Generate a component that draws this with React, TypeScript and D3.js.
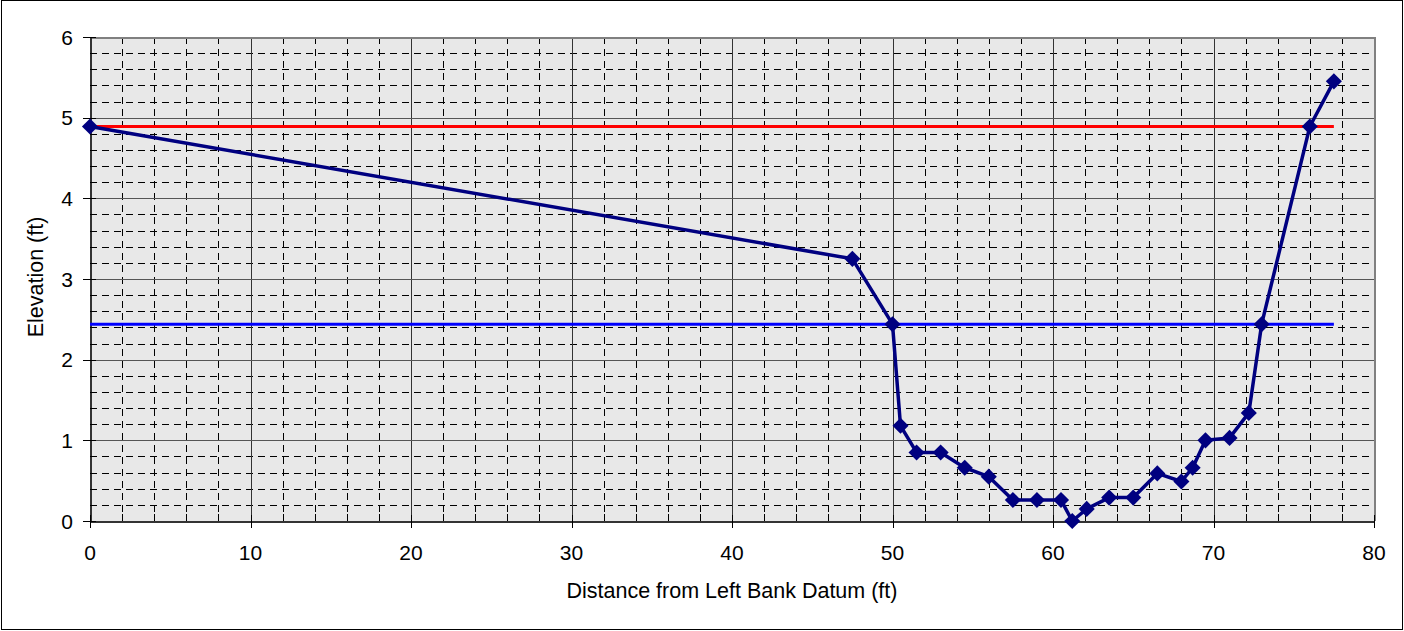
import React, { useEffect, useRef } from "react";
import * as d3 from "d3";

// Surveyed cross-section: station (ft) and bed elevation (ft)
const stations = [0, 47.5, 50, 50.5, 51.5, 53, 54.5, 56, 57.5, 59, 60.5, 61.2, 62.1, 63.5, 65, 66.5, 68, 68.7, 69.5, 71, 72.2, 73, 76, 77.5];
const elevations = [4.89, 3.25, 2.44, 1.18, 0.85, 0.85, 0.66, 0.55, 0.26, 0.26, 0.26, 0, 0.15, 0.29, 0.29, 0.59, 0.49, 0.66, 1.0, 1.03, 1.34, 2.44, 4.89, 5.45];

// Reference water levels drawn across the section
const bankfullElevation = [4.89];
const lowWaterElevation = [2.44];
const levelExtent = [0, 77.5];

const xTicks = [0, 10, 20, 30, 40, 50, 60, 70, 80];
const yTicks = [0, 1, 2, 3, 4, 5, 6];

const W = 1404;
const H = 631;
const M = { left: 90, right: 30, top: 37, bottom: 110 };

export default function App() {
  const ref = useRef<SVGSVGElement>(null);

  useEffect(() => {
    const svg = d3.select(ref.current);
    svg.selectAll("*").remove();

    const x = d3.scaleLinear().domain([0, 80]).range([M.left, 1374]);
    const y = d3.scaleLinear().domain([0, 6]).range([521, M.top]);
    const [x0, x1] = x.range();
    const [y0, y1] = y.range();

    // outer frame
    svg.append("rect").attr("x", 1.5).attr("y", 0.5).attr("width", W - 3).attr("height", H - 2)
      .attr("fill", "#fff").attr("stroke", "#000").attr("stroke-width", 1);

    // plot background
    svg.append("rect").attr("x", x0).attr("y", y1).attr("width", x1 - x0).attr("height", y0 - y1)
      .attr("fill", "#e8e8e8");

    const g = svg.append("g").attr("shape-rendering", "crispEdges");

    // minor dashed grid
    const minorX = d3.range(0, 80.001, 2).filter((v) => Math.abs(v % 10) > 1e-6);
    const minorY = d3.range(0, 6.001, 0.2).filter((v) => Math.abs(v - Math.round(v)) > 1e-6);
    g.selectAll(".mx").data(minorX).join("line")
      .attr("x1", (d) => Math.round(x(d)) + 0.5).attr("x2", (d) => Math.round(x(d)) + 0.5)
      .attr("y1", y1).attr("y2", y0)
      .attr("stroke", "#000").attr("stroke-width", 1).attr("stroke-dasharray", "7,5");
    g.selectAll(".my").data(minorY).join("line")
      .attr("y1", (d) => Math.round(y(d)) + 0.5).attr("y2", (d) => Math.round(y(d)) + 0.5)
      .attr("x1", x0).attr("x2", x1)
      .attr("stroke", "#000").attr("stroke-width", 1).attr("stroke-dasharray", "7,5");

    // major solid grid
    g.selectAll(".Mx").data(xTicks.slice(1)).join("line")
      .attr("x1", (d) => Math.round(x(d)) + 0.5).attr("x2", (d) => Math.round(x(d)) + 0.5)
      .attr("y1", y1).attr("y2", y0)
      .attr("stroke", (d) => (d === 80 ? "#808080" : "#333")).attr("stroke-width", (d) => (d === 80 ? 2 : 1));
    g.selectAll(".My").data(yTicks.slice(1)).join("line")
      .attr("y1", (d) => Math.round(y(d)) + 0.5).attr("y2", (d) => Math.round(y(d)) + 0.5)
      .attr("x1", x0).attr("x2", x1)
      .attr("stroke", (d) => (d === 6 ? "#808080" : "#555")).attr("stroke-width", (d) => (d === 6 ? 2 : 1));

    // axes
    const axisColor = "#333";
    g.append("line").attr("x1", x0).attr("x2", x1).attr("y1", y0 + 0.5).attr("y2", y0 + 0.5)
      .attr("stroke", axisColor).attr("stroke-width", 2);
    g.append("line").attr("x1", x0 + 0.5).attr("x2", x0 + 0.5).attr("y1", y1).attr("y2", y0)
      .attr("stroke", axisColor).attr("stroke-width", 2);

    // major ticks (crossing) and minor ticks (inside)
    g.selectAll(".tx").data(xTicks).join("line")
      .attr("x1", (d) => Math.round(x(d)) + 0.5).attr("x2", (d) => Math.round(x(d)) + 0.5)
      .attr("y1", y0 - 6).attr("y2", y0 + 7).attr("stroke", "#000");
    g.selectAll(".mtx").data(minorX).join("line")
      .attr("x1", (d) => Math.round(x(d)) + 0.5).attr("x2", (d) => Math.round(x(d)) + 0.5)
      .attr("y1", y0 - 7).attr("y2", y0).attr("stroke", "#000");
    g.selectAll(".ty").data(yTicks).join("line")
      .attr("y1", (d) => Math.round(y(d)) + 0.5).attr("y2", (d) => Math.round(y(d)) + 0.5)
      .attr("x1", x0 - 7).attr("x2", x0 + 6).attr("stroke", "#000");
    g.selectAll(".mty").data(minorY).join("line")
      .attr("y1", (d) => Math.round(y(d)) + 0.5).attr("y2", (d) => Math.round(y(d)) + 0.5)
      .attr("x1", x0).attr("x2", x0 + 7).attr("stroke", "#000");

    const font = "Arial, 'Liberation Sans', sans-serif";

    svg.selectAll(".xl").data(xTicks).join("text")
      .attr("x", (d) => x(d)).attr("y", 560).attr("text-anchor", "middle")
      .attr("font-family", font).attr("font-size", 21).attr("fill", "#000").text((d) => d);
    svg.selectAll(".yl").data(yTicks).join("text")
      .attr("x", 73).attr("y", (d) => y(d) + 7.5).attr("text-anchor", "end")
      .attr("font-family", font).attr("font-size", 21).attr("fill", "#000").text((d) => d);

    svg.append("text").attr("x", 732).attr("y", 598).attr("text-anchor", "middle")
      .attr("font-family", font).attr("font-size", 21.5).attr("fill", "#000")
      .text("Distance from Left Bank Datum (ft)");
    svg.append("text").attr("transform", `translate(43,277) rotate(-90)`)
      .attr("text-anchor", "middle")
      .attr("font-family", font).attr("font-size", 21.5).attr("fill", "#000")
      .text("Elevation (ft)");

    // water levels
    const levels = [
      { v: bankfullElevation[0], c: "#ff0000" },
      { v: lowWaterElevation[0], c: "#0000ff" },
    ];
    svg.selectAll(".lvl").data(levels).join("line")
      .attr("x1", x(levelExtent[0])).attr("x2", x(levelExtent[1]))
      .attr("y1", (d) => y(d.v)).attr("y2", (d) => y(d.v))
      .attr("stroke", (d) => d.c).attr("stroke-width", 3);

    // cross-section profile
    const pts = stations.map((s, i) => [s, elevations[i]] as [number, number]);
    const line = d3.line<[number, number]>().x((d) => x(d[0])).y((d) => y(d[1]));
    svg.append("path").attr("d", line(pts)).attr("fill", "none")
      .attr("stroke", "#000080").attr("stroke-width", 3.5).attr("stroke-linejoin", "round");

    const sym = d3.symbol().type(d3.symbolDiamond2).size(165);
    svg.selectAll(".pt").data(pts).join("path")
      .attr("d", sym).attr("transform", (d) => `translate(${x(d[0])},${y(d[1])})`)
      .attr("fill", "#000080");
  }, []);

  return <svg ref={ref} width={W} height={H} style={{ display: "block", position: "absolute", left: 0, top: 0 }} />;
}
